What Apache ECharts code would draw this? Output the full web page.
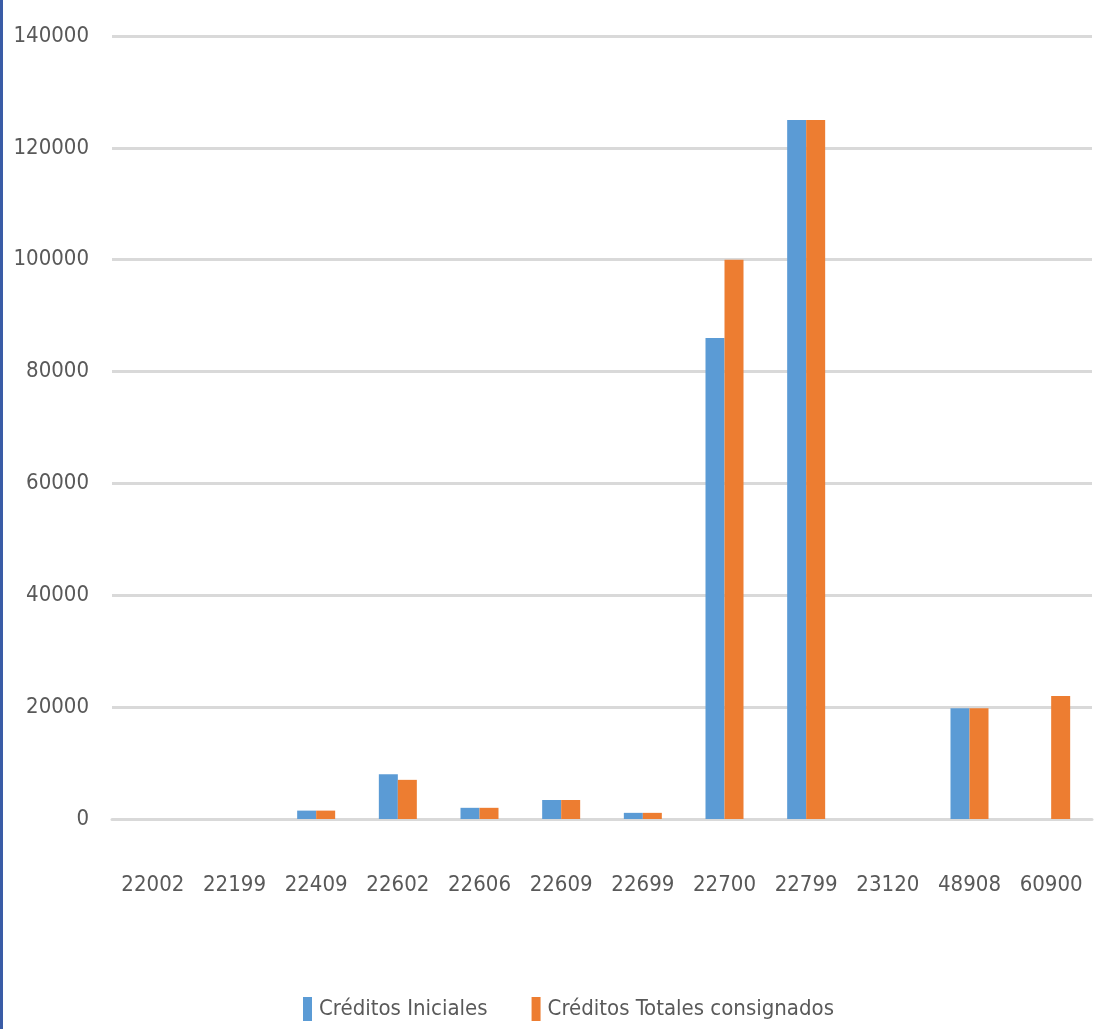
<!DOCTYPE html>
<html>
<head>
<meta charset="utf-8">
<script src="https://cdn.jsdelivr.net/npm/echarts@6/dist/echarts.min.js"></script>
<style>
  html, body { margin: 0; padding: 0; background: #fff; }
  #wrap { position: relative; width: 1094px; height: 1029px; }
  #chart { width: 1094px; height: 1029px; }
  .edge { position: absolute; left: 0; top: 0; width: 3px; height: 1029px; background: #3a5ca6; }
</style>
</head>
<body>
<div id="wrap">
  <div id="chart"></div>
  <div class="edge"></div>
</div>
<script>
  // categorias (partidas)
  var categories = ['22002', '22199', '22409', '22602', '22606', '22609', '22699', '22700', '22799', '23120', '48908', '60900'];
  var seriesNames = ['Créditos Iniciales', 'Créditos Totales consignados'];
  var creditosIniciales = [0, 0, 1500, 8000, 2000, 3400, 1100, 86000, 125000, 0, 19800, 0];
  var creditosTotales   = [0, 0, 1500, 7000, 2000, 3400, 1100, 100000, 125000, 0, 19800, 22000];

  var textColor = '#595959';
  var font = '"DejaVu Sans Condensed", "DejaVu Sans", sans-serif';

  var chart = echarts.init(document.getElementById('chart'));
  var option = {
    backgroundColor: '#ffffff',
    animation: false,
    color: ['#5b9bd5', '#ed7d31'],
    grid: { left: 112, right: 2, top: 36, bottom: 210 },
    legend: {
      data: seriesNames,
      left: 298,
      top: 992,
      icon: 'rect',
      itemWidth: 9,
      itemHeight: 24,
      itemGap: 44,
      textStyle: { color: textColor, fontFamily: font, fontSize: 22, padding: [0, 0, 0, 2] }
    },
    xAxis: {
      type: 'category',
      data: categories,
      axisLine: { show: true, lineStyle: { color: '#d9d9d9', width: 3 } },
      axisTick: { show: false },
      axisLabel: { color: textColor, fontFamily: font, fontSize: 22, margin: 55, interval: 0 }
    },
    yAxis: {
      type: 'value',
      min: 0,
      max: 140000,
      interval: 20000,
      axisLine: { show: false },
      axisTick: { show: false },
      splitLine: { lineStyle: { color: '#d9d9d9', width: 3 } },
      axisLabel: {
        color: textColor, fontFamily: font, fontSize: 22, margin: 23,
        formatter: function (v) { return String(v); }
      }
    },
    series: [
      { name: seriesNames[0], type: 'bar', data: creditosIniciales, barWidth: 19, barGap: '0%' },
      { name: seriesNames[1], type: 'bar', data: creditosTotales, barWidth: 19, barGap: '0%' }
    ]
  };
  chart.setOption(option);
</script>
</body>
</html>
